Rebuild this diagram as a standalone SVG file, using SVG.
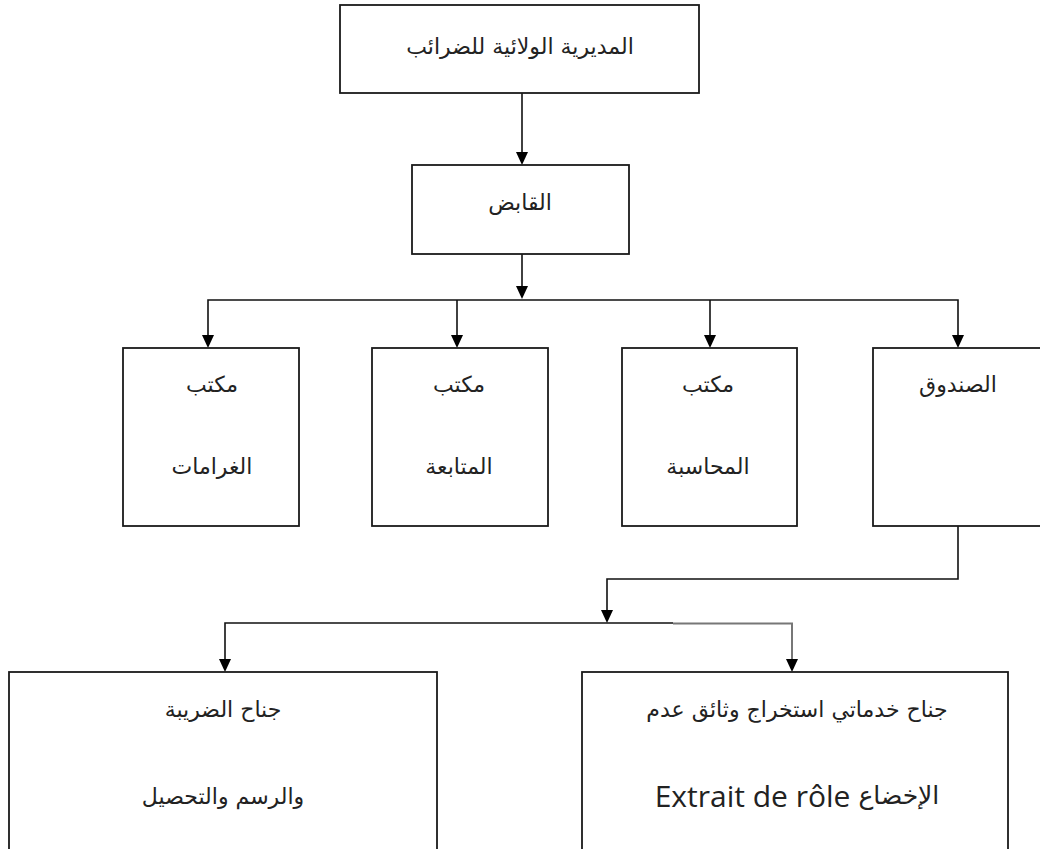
<svg xmlns="http://www.w3.org/2000/svg" width="1040" height="849" viewBox="0 0 1040 849">
<style>
.box{fill:#fff;stroke:#1a1a1a;stroke-width:1.8}
.ln{fill:none;stroke:#111;stroke-width:1.6}
.ah{fill:#000}
.ar{font-family:"DejaVu Sans",sans-serif;font-size:22px;fill:#222;text-anchor:middle;dominant-baseline:central}
.lat{font-family:"Open Sans","Noto Sans",sans-serif;font-size:30px}
</style>
<rect width="1040" height="849" fill="#fff"/>
<g id="connectors">
<path class="ln" d="M522,93 V152"/>
<path class="ah" d="M516,152 L528,152 L522,165 Z"/>
<path class="ln" d="M522,254 V286"/>
<path class="ah" d="M516,286 L528,286 L522,299 Z"/>
<path class="ln" d="M208,335 V300 H958 V335"/>
<path class="ln" d="M457,300 V335"/>
<path class="ln" d="M710,300 V335"/>
<path class="ah" d="M202,335 L214,335 L208,348 Z"/>
<path class="ah" d="M451,335 L463,335 L457,348 Z"/>
<path class="ah" d="M704,335 L716,335 L710,348 Z"/>
<path class="ah" d="M952,335 L964,335 L958,348 Z"/>
<path class="ln" d="M958,526 V579 H607 V610"/>
<path class="ah" d="M601,610 L613,610 L607,623 Z"/>
<path class="ln" d="M225,659 V623 H673"/>
<path d="M673,623.5 H792 V659" fill="none" stroke="#777" stroke-width="2"/>
<path class="ah" d="M219,659 L231,659 L225,672 Z"/>
<path class="ah" d="M786,659 L798,659 L792,672 Z"/>
</g>
<g id="n-directorate">
<rect class="box" x="340" y="5" width="359" height="88"/>
<text class="ar" x="520" y="46">المديرية الولائية للضرائب</text>
</g>
<g id="n-receiver">
<rect class="box" x="412" y="165" width="217" height="89"/>
<text class="ar" x="520" y="202">القابض</text>
</g>
<g id="n-fines">
<rect class="box" x="123" y="348" width="176" height="178"/>
<text class="ar" x="212" y="384">مكتب</text>
<text class="ar" x="212" y="466">الغرامات</text>
</g>
<g id="n-followup">
<rect class="box" x="372" y="348" width="176" height="178"/>
<text class="ar" x="459" y="384">مكتب</text>
<text class="ar" x="459" y="466">المتابعة</text>
</g>
<g id="n-accounting">
<rect class="box" x="622" y="348" width="175" height="178"/>
<text class="ar" x="708" y="384">مكتب</text>
<text class="ar" x="708" y="466">المحاسبة</text>
</g>
<g id="n-cashbox">
<rect class="box" x="873" y="348" width="172" height="178"/>
<text class="ar" x="958" y="384">الصندوق</text>
</g>
<g id="n-tax-wing">
<rect class="box" x="9" y="672" width="428" height="190"/>
<text class="ar" x="223" y="709">جناح الضريبة</text>
<text class="ar" x="223" y="796">والرسم والتحصيل</text>
</g>
<g id="n-services-wing">
<rect class="box" x="582" y="672" width="426" height="190"/>
<text class="ar" x="797" y="709">جناح خدماتي استخراج وثائق عدم</text>
<text class="ar" x="797" y="795" direction="rtl" style="font-size:25px">الإخضاع <tspan class="lat">Extrait de rôle</tspan></text>
</g>
</svg>
